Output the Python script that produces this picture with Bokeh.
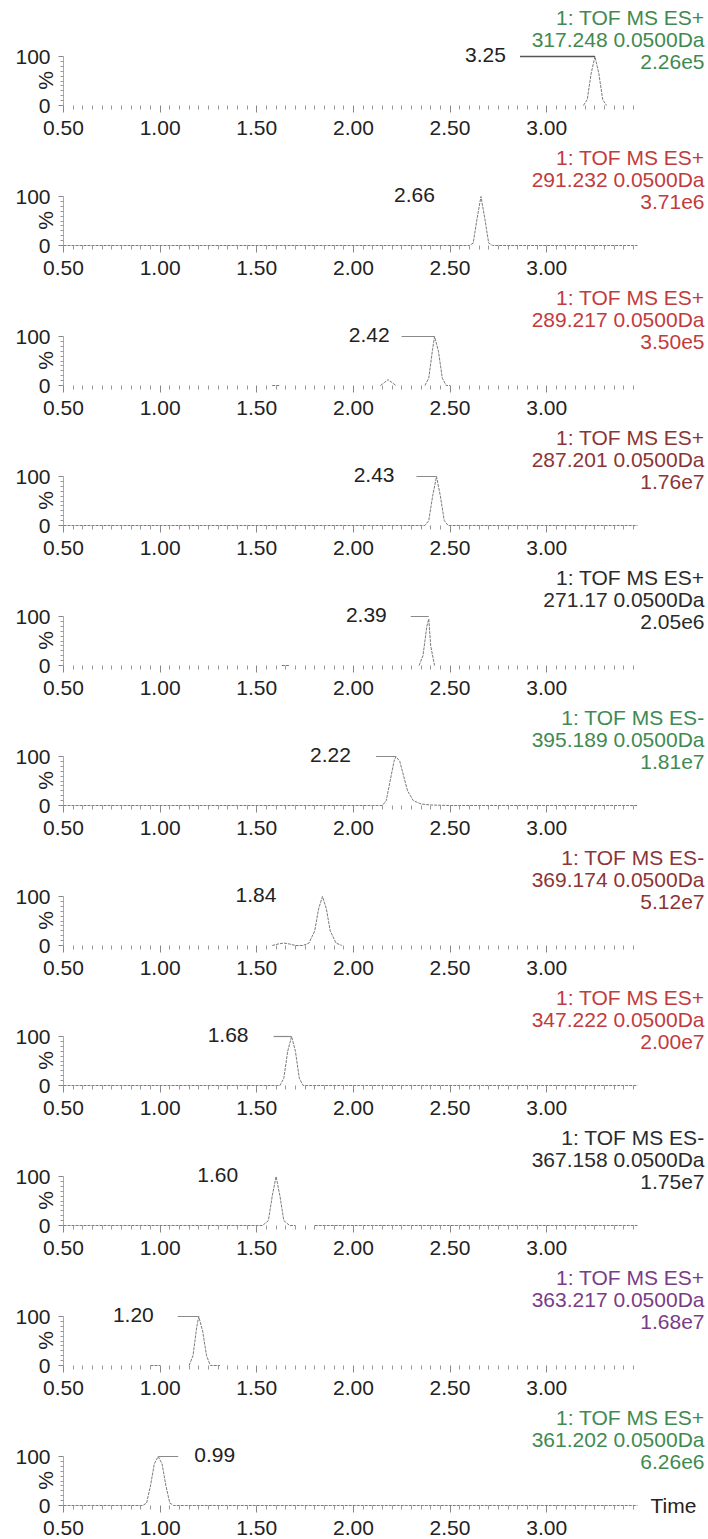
import math
from bokeh.plotting import figure
from bokeh.layouts import column
from bokeh.models import Range1d, FixedTicker, Label, NumeralTickFormatter, LinearAxis
from bokeh.embed import file_html
from bokeh.resources import INLINE

nan = float("nan")

# ---------------- data ----------------
modes = ["ES+", "ES+", "ES+", "ES+", "ES+", "ES-", "ES-", "ES+", "ES-", "ES+", "ES+"]
masses = ["317.248", "291.232", "289.217", "287.201", "271.17", "395.189",
          "369.174", "347.222", "367.158", "363.217", "361.202"]
intensities = ["2.26e5", "3.71e6", "3.50e5", "1.76e7", "2.05e6", "1.81e7",
               "5.12e7", "2.00e7", "1.75e7", "1.68e7", "6.26e6"]
peak_rt = [3.25, 2.66, 2.42, 2.43, 2.39, 2.22, 1.84, 1.68, 1.60, 1.20, 0.99]
peak_labels = ["3.25", "2.66", "2.42", "2.43", "2.39", "2.22", "1.84", "1.68", "1.60", "1.20", "0.99"]

x_ticks = [0.5, 1.0, 1.5, 2.0, 2.5, 3.0]
y_ticks = [0, 100]

rt_01 = [3.19, 3.21, 3.23, 3.25, 3.27, 3.29, 3.31]
pct_01 = [0, 12, 65, 100, 65, 12, 0]
rt_02 = [0.50, 2.60, 2.62, 2.64, 2.66, 2.68, 2.70, 2.72, 3.47]
pct_02 = [0, 0, 5, 55, 100, 55, 5, 0, 0]
rt_03 = [1.58, 1.62, nan, 2.14, 2.16, 2.18, 2.20, 2.22, nan, 2.37, 2.39, 2.41, 2.42, 2.44, 2.46, 2.48, 2.50]
pct_03 = [0, 0, nan, 0, 6, 12, 6, 0, nan, 0, 15, 75, 100, 70, 15, 0, 0]
rt_04 = [0.50, 2.37, 2.39, 2.41, 2.43, 2.45, 2.47, 2.49, 3.47]
pct_04 = [0, 0, 10, 60, 100, 60, 10, 0, 0]
rt_05 = [1.63, 1.67, nan, 2.34, 2.36, 2.38, 2.39, 2.40, 2.42]
pct_05 = [0, 0, nan, 0, 20, 80, 95, 40, 0]
rt_06 = [0.50, 2.15, 2.17, 2.19, 2.21, 2.22, 2.24, 2.26, 2.28, 2.31, 2.35, 2.40, 2.50, 3.47]
pct_06 = [0, 0, 10, 50, 90, 100, 90, 60, 30, 10, 3, 1, 0, 0]
rt_07 = [1.58, 1.61, 1.64, 1.67, 1.70, 1.72, 1.74, 1.77, 1.80, 1.82, 1.84, 1.86, 1.88, 1.91, 1.94]
pct_07 = [0, 3, 5, 3, 0, 0, 0, 5, 30, 75, 100, 75, 30, 5, 0]
rt_08 = [0.50, 1.62, 1.64, 1.66, 1.68, 1.70, 1.72, 1.74, 3.47]
pct_08 = [0, 0, 15, 70, 100, 70, 15, 0, 0]
rt_09 = [0.50, 1.53, 1.56, 1.58, 1.60, 1.62, 1.64, 1.67, 1.70, nan, 1.80, 3.47]
pct_09 = [0, 0, 10, 60, 100, 60, 10, 0, 0, nan, 0, 0]
rt_10 = [0.95, 1.00, nan, 1.15, 1.17, 1.19, 1.20, 1.22, 1.24, 1.26, 1.31]
pct_10 = [0, 0, nan, 0, 20, 80, 100, 70, 20, 0, 0]
rt_11 = [0.50, 0.91, 0.93, 0.95, 0.97, 0.99, 1.01, 1.03, 1.05, 1.07, 1.13, 3.47]
pct_11 = [0, 0, 5, 40, 85, 100, 85, 40, 5, 0, 0, 0]

traces = [(rt_01, pct_01), (rt_02, pct_02), (rt_03, pct_03), (rt_04, pct_04),
          (rt_05, pct_05), (rt_06, pct_06), (rt_07, pct_07), (rt_08, pct_08),
          (rt_09, pct_09), (rt_10, pct_10), (rt_11, pct_11)]

# ---------------- styling / layout ----------------
GREEN, RED, DRED, BLACK, PURPLE = "#3f8a50", "#c23b3d", "#8c3535", "#2b2b2b", "#7a3c86"
title_colors = [GREEN, RED, RED, DRED, BLACK, GREEN, DRED, RED, BLACK, PURPLE, GREEN]
label_gap_px = [89, 46, 45, 42, 42, 45, 46, 43, 38, 45, 36]
line_len_px = [75, 0, 33, 20, 18, 20, 0, 18, 0, 21, 20]
label_right = [False] * 10 + [True]

FONT = "Liberation Sans"
FS = "21px"
TXT = "#222222"
W, H = 708, 140
AX_LEFT_PX, AX_RIGHT_PX = 63, 637      # pixel positions of 0.50 and the axis end
TOP100_PX, BASE_PX = 56, 105           # pixel rows of 100 % and 0 %
X0, X1 = 0.5, 3.47
ppm = (AX_RIGHT_PX - AX_LEFT_PX) / (X1 - X0)
pph = (BASE_PX - TOP100_PX) / 100.0

minor_x = [round(0.5 + 0.05 * i, 2) for i in range(60)
           if round(0.5 + 0.05 * i, 2) not in x_ticks and 0.5 + 0.05 * i < 3.46]
minor_y = [10, 20, 30, 40, 50, 60, 70, 80, 90]


def xd(px):
    return X0 + (px - AX_LEFT_PX) / ppm


def yd(py):
    return (BASE_PX - py) / pph


figs = []
for i in range(11):
    h = H - 1 if i == 10 else H
    p = figure(width=W, height=h,
               x_range=Range1d(xd(0), xd(W)), y_range=Range1d(yd(h), yd(0)),
               x_axis_location=None, y_axis_location=None,
               output_backend="svg", toolbar_location=None,
               min_border_left=0, min_border_right=0, min_border_top=0, min_border_bottom=0)
    p.outline_line_color = None
    p.grid.visible = False
    p.background_fill_color = "white"
    p.border_fill_color = "white"

    xa = LinearAxis(fixed_location=0, bounds=(X0, X1))
    xa.ticker = FixedTicker(ticks=x_ticks, minor_ticks=minor_x)
    xa.formatter = NumeralTickFormatter(format="0.00")
    xa.axis_line_color = None
    xa.major_tick_line_color = "#888888"
    xa.minor_tick_line_color = "#999999"
    xa.major_tick_out = 7
    xa.major_tick_in = 0
    xa.minor_tick_out = 4
    xa.minor_tick_in = 0
    xa.major_label_standoff = 8
    xa.major_label_text_font = FONT
    xa.major_label_text_font_size = FS
    xa.major_label_text_color = TXT
    p.add_layout(xa, "below")

    ya = LinearAxis(fixed_location=X0, bounds=(0, 100))
    ya.ticker = FixedTicker(ticks=y_ticks, minor_ticks=minor_y)
    ya.axis_line_color = "#aaaaaa"
    ya.major_tick_line_color = "#888888"
    ya.minor_tick_line_color = "#999999"
    ya.major_tick_out = 5
    ya.major_tick_in = 0
    ya.minor_tick_out = 3
    ya.minor_tick_in = 0
    ya.major_label_standoff = 8
    ya.major_label_text_font = FONT
    ya.major_label_text_font_size = FS
    ya.major_label_text_color = TXT
    p.add_layout(ya, "left")

    t, v = traces[i]
    p.line(t, v, line_color="#7a7a7a", line_width=1, line_dash="3 1")

    # "%" axis label
    p.add_layout(Label(x=xd(45), y=yd(80), text="%", angle=math.pi / 2,
                       text_align="center", text_baseline="middle",
                       text_font=FONT, text_font_size=FS, text_color=TXT))

    # title lines (right aligned)
    lines = ["1: TOF MS " + modes[i], masses[i] + " 0.0500Da", intensities[i]]
    for k, ypx in enumerate([17, 39, 61]):
        p.add_layout(Label(x=xd(704), y=yd(ypx), text=lines[k], text_align="right",
                           text_baseline="middle", text_font=FONT,
                           text_font_size=FS, text_color=title_colors[i]))

    # retention-time label and marker line
    rt = peak_rt[i]
    ylab = yd(TOP100_PX - 2)
    if label_right[i]:
        p.add_layout(Label(x=rt + label_gap_px[i] / ppm, y=ylab, text=peak_labels[i],
                           text_align="left", text_baseline="middle", text_font=FONT,
                           text_font_size=FS, text_color=TXT))
        p.segment(x0=[rt], y0=[100], x1=[rt + line_len_px[i] / ppm], y1=[100],
                  line_color="#8a8a8a", line_width=1.2)
    else:
        p.add_layout(Label(x=rt - label_gap_px[i] / ppm, y=ylab, text=peak_labels[i],
                           text_align="right", text_baseline="middle", text_font=FONT,
                           text_font_size=FS, text_color=TXT))
        if line_len_px[i] > 0:
            p.segment(x0=[rt - line_len_px[i] / ppm], y0=[100], x1=[rt], y1=[100],
                      line_color="#555555" if i == 0 else "#8a8a8a",
                      line_width=1.5 if i == 0 else 1.2)

    if i == 10:
        p.add_layout(Label(x=xd(650), y=0, text="Time", text_align="left",
                           text_baseline="middle", text_font=FONT,
                           text_font_size=FS, text_color=TXT))
    figs.append(p)

layout = column(*figs, spacing=0)
open("out.html", "w").write(file_html(layout, INLINE))
